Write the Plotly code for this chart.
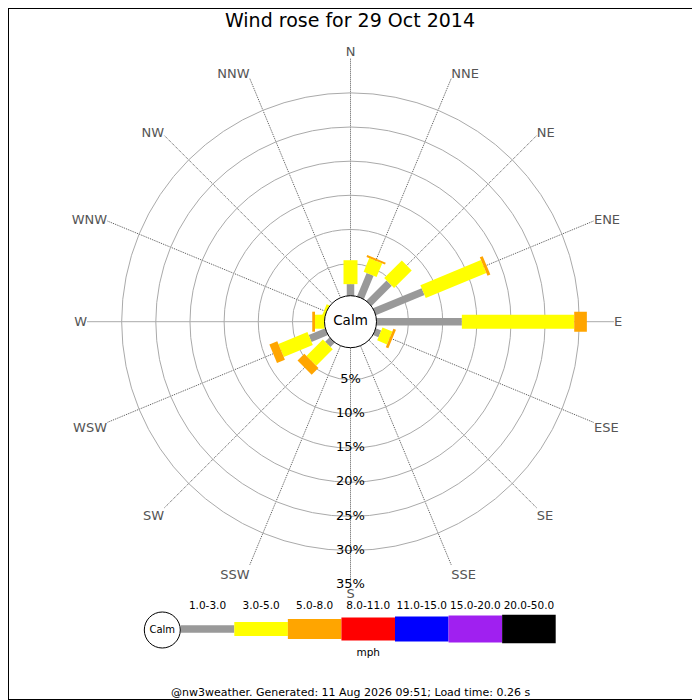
import plotly.graph_objects as go

# wind directions, clockwise from north
directions = ["N", "NNE", "NE", "ENE", "E", "ESE", "SE", "SSE",
              "S", "SSW", "SW", "WSW", "W", "WNW", "NW", "NNW"]

# percentage of time in each speed band (mph) per direction
speed_bins = ["1.0-3.0", "3.0-5.0", "5.0-8.0", "8.0-11.0",
              "11.0-15.0", "15.0-20.0", "20.0-50.0"]
pct_1_3 = [2.0, 4.0, 4.5, 8.0, 12.8, 1.15, 0, 0, 0, 0, 1.2, 2.9, 0.3, 0.2, 0, 0]
pct_3_5 = [3.5, 2.15, 3.65, 9.6, 16.45, 1.55, 0, 0, 0, 0, 3.4, 4.6, 1.4, 0.5, 0, 0]
pct_5_8 = [0, 0.3, 0, 0.45, 1.85, 0.4, 0, 0, 0, 0, 1.4, 1.25, 0.4, 0, 0, 0]

ring_vals = [5, 10, 15, 20, 25, 30, 35]
ring_labels = ["5%", "10%", "15%", "20%", "25%", "30%", "35%"]

# styling
bin_colors = ["#999999", "#ffff00", "#ffa500", "#ff0000", "#0000ff", "#a020f0", "#000000"]
bar_px = [7.5, 14, 20, 23, 25, 27, 28.7]
FONT = "DejaVu Sans"
R_MIN = -3.5  # radial value at the centre, leaves room for the calm circle

# the page body has an 8px margin, so the figure is 692px and sits at (8, 8)
W = 692
OFF = 8


def fx(px):
    return (px - OFF) / W


def fy(py):
    return (700 - py) / W


theta = [i * 22.5 for i in range(len(directions))]

fig = go.Figure()

# stacked wind rose segments, drawn as thick radial lines
cum = [0.0] * len(directions)
for k, band in enumerate([pct_1_3, pct_3_5, pct_5_8]):
    rr, tt = [], []
    for i, v in enumerate(band):
        if v > 0:
            rr += [cum[i], cum[i] + v, None]
            tt += [theta[i], theta[i], None]
            cum[i] += v
    fig.add_trace(go.Scatterpolar(
        r=rr, theta=tt, mode="lines", connectgaps=False,
        line=dict(color=bin_colors[k], width=bar_px[k]),
        hoverinfo="skip", showlegend=False))

# calm circle in the middle
fig.add_trace(go.Scatterpolar(
    r=[R_MIN], theta=[0], mode="markers+text", text=["Calm"],
    textposition="middle center",
    textfont=dict(family=FONT, size=13.5, color="black"),
    marker=dict(size=52, color="white", line=dict(color="black", width=1)),
    hoverinfo="skip", showlegend=False))

# ring labels down the south axis
fig.add_trace(go.Scatterpolar(
    r=ring_vals, theta=[180] * len(ring_vals), mode="text",
    text=ring_labels, textposition="middle center",
    textfont=dict(family=FONT, size=13, color="black"),
    hoverinfo="skip", showlegend=False))

# speed key at the bottom
fig.add_trace(go.Bar(
    x=list(range(len(speed_bins))), y=bar_px,
    base=[-h / 2 for h in bar_px], width=1,
    marker=dict(color=bin_colors, line=dict(width=0)),
    hoverinfo="skip", showlegend=False, xaxis="x", yaxis="y"))
fig.add_trace(go.Scatter(
    x=list(range(len(speed_bins))), y=[22.3] * len(speed_bins),
    mode="text", text=speed_bins,
    textfont=dict(family=FONT, size=10.5, color="black"),
    hoverinfo="skip", showlegend=False, xaxis="x", yaxis="y"))
fig.add_trace(go.Scatter(
    x=[-0.844], y=[-1], mode="markers+text", text=["Calm"],
    textposition="middle center",
    textfont=dict(family=FONT, size=10, color="black"),
    marker=dict(size=36, color="white", line=dict(color="black", width=1)),
    hoverinfo="skip", showlegend=False, xaxis="x", yaxis="y"))
fig.add_trace(go.Scatter(
    x=[3], y=[-24], mode="text", text=["mph"],
    textfont=dict(family=FONT, size=10.5, color="black"),
    hoverinfo="skip", showlegend=False, xaxis="x", yaxis="y"))

fig.update_layout(
    width=W, height=W,
    margin=dict(l=0, r=0, t=0, b=0),
    paper_bgcolor="white", plot_bgcolor="white",
    font=dict(family=FONT),
    barmode="overlay",
    title=dict(text="Wind rose for 29 Oct 2014", x=fx(350), xanchor="center",
               y=fy(20), yanchor="middle",
               font=dict(family=FONT, size=19, color="black")),
    polar=dict(
        domain=dict(x=[fx(87.5), fx(613.5)], y=[fy(584.7), fy(58.7)]),
        bgcolor="white",
        radialaxis=dict(range=[R_MIN, 35], tickvals=ring_vals,
                        showticklabels=False, ticks="", showline=False,
                        gridcolor="#aaaaaa", gridwidth=1),
        angularaxis=dict(direction="clockwise", rotation=90,
                         tickmode="array", tickvals=theta, ticktext=directions,
                         ticks="", showline=False,
                         tickfont=dict(family=FONT, size=13, color="#555555"),
                         gridcolor="#555555", gridwidth=1, griddash="1px,1px"),
    ),
    xaxis=dict(domain=[fx(130), fx(570)], range=[-1.447, 6.767],
               visible=False, fixedrange=True),
    yaxis=dict(domain=[fy(659), fy(599)], range=[-30, 30],
               visible=False, fixedrange=True),
    annotations=[dict(
        text="@nw3weather. Generated: 11 Aug 2026 09:51; Load time: 0.26 s",
        x=fx(350), y=fy(692.5), xref="paper", yref="paper",
        xanchor="center", yanchor="middle", showarrow=False,
        font=dict(family=FONT, size=11, color="black"))],
    shapes=[dict(type="rect", xref="paper", yref="paper",
                 x0=0, x1=1, y0=0, y1=1,
                 line=dict(color="black", width=2))],
)

fig.write_html("out.html")
